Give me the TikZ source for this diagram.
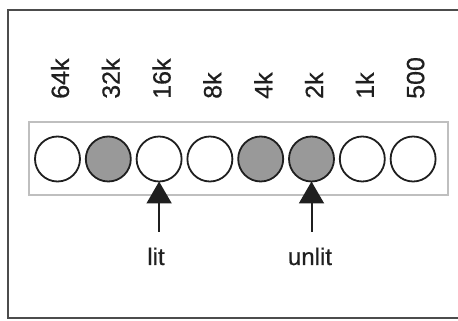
\documentclass[tikz,border=0pt]{standalone}
\usepackage{fontspec}
\setmainfont[FakeBold=0.6]{Liberation Sans}
\usetikzlibrary{arrows.meta}
\definecolor{lampgray}{gray}{0.6}
\definecolor{inkgray}{gray}{0.12}
\begin{document}
\begin{tikzpicture}[x=1pt,y=1pt,
  lamp/.style={circle, draw=inkgray, line width=1.8pt, minimum size=45pt,
    inner sep=0pt, outer sep=0pt},
  freq/.style={rotate=90, anchor=west, inner sep=0pt,
    font=\fontsize{25}{30}\selectfont, text=inkgray},
  callout/.style={anchor=base, inner sep=0pt, outer sep=0pt,
    font=\fontsize{24}{28}\selectfont, text=inkgray},
  pointer/.style={line width=2pt, draw=inkgray,
    -{Triangle[width=25pt,length=22pt]}, shorten <=16pt}]
\useasboundingbox (0,0) rectangle (458,321);
% outer frame, open on the right
\begin{scope}
  \clip (0,0) rectangle (458,321);
  \draw[line width=2pt, draw=black!70] (475,311) -- (8,311) -- (8,3) -- (475,3);
\end{scope}
% panel holding the lamps
\node[draw=black!25, line width=1.4pt, minimum width=419pt, minimum height=73pt,
      inner sep=0pt] (panel) at (238.5,162.5) {};
% lamps and their frequency labels
\foreach \lbl/\fc [count=\i from 0] in
  {64k/white, 32k/lampgray, 16k/white, 8k/white,
   4k/lampgray, 2k/lampgray, 1k/white, 500/white} {
  \node[lamp, fill=\fc] (c\i) at ({57.5+50.8*\i},162) {};
  \node[freq] (f\i) at ({60+50.8*\i},222) {\lbl};
}
% callouts
\node[callout] (lit) at (156,56) {lit};
\node[callout] (unlit) at (310,56) {unlit};
\draw[pointer] (c2.south |- lit.north) -- (c2.south);
\draw[pointer] (c5.south |- unlit.north) -- (c5.south);
\end{tikzpicture}
\end{document}
